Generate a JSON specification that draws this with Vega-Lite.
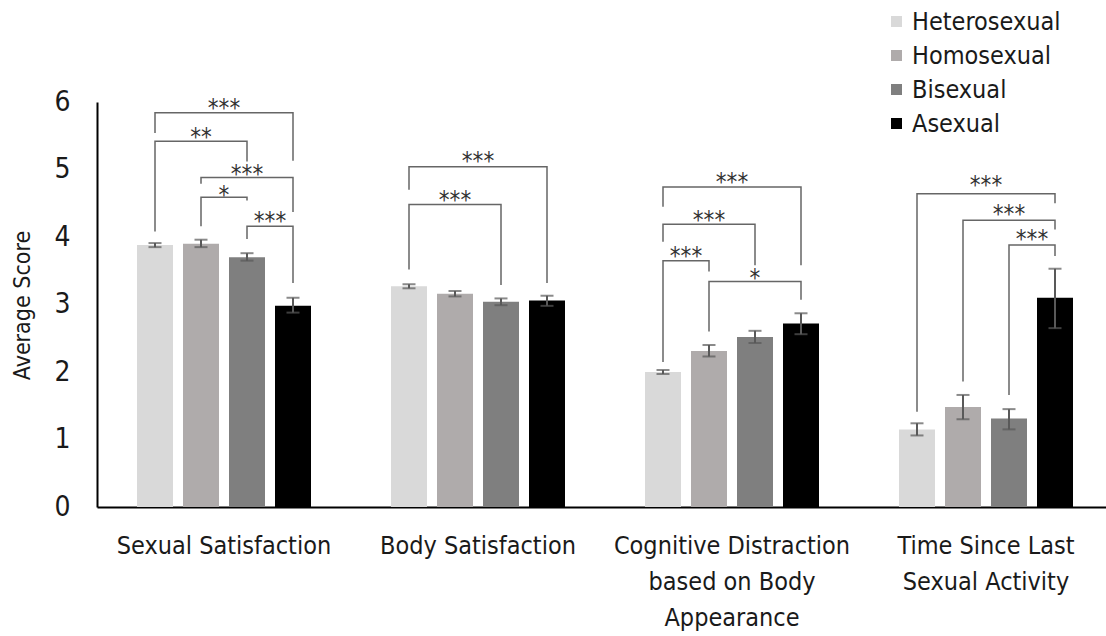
{
  "$schema": "https://vega.github.io/schema/vega-lite/v6.json",
  "width": 1009,
  "height": 405,
  "autosize": {"type": "none"},
  "padding": {"left": 97, "top": 102, "right": 0, "bottom": 129},
  "background": "white",
  "config": {
    "view": {"stroke": null},
    "font": "DejaVu Sans Condensed, DejaVu Sans, sans-serif",
    "axis": {"grid": false}
  },
  "datasets": {
    "bars": [
      {"measure": "Sexual Satisfaction", "group": "Heterosexual", "mean": 3.88, "lo": 3.85, "hi": 3.91},
      {"measure": "Sexual Satisfaction", "group": "Homosexual", "mean": 3.90, "lo": 3.85, "hi": 3.96},
      {"measure": "Sexual Satisfaction", "group": "Bisexual", "mean": 3.70, "lo": 3.65, "hi": 3.76},
      {"measure": "Sexual Satisfaction", "group": "Asexual", "mean": 2.98, "lo": 2.88, "hi": 3.10},
      {"measure": "Body Satisfaction", "group": "Heterosexual", "mean": 3.27, "lo": 3.24, "hi": 3.30},
      {"measure": "Body Satisfaction", "group": "Homosexual", "mean": 3.16, "lo": 3.12, "hi": 3.20},
      {"measure": "Body Satisfaction", "group": "Bisexual", "mean": 3.04, "lo": 2.99, "hi": 3.09},
      {"measure": "Body Satisfaction", "group": "Asexual", "mean": 3.06, "lo": 2.98, "hi": 3.13},
      {"measure": "Cognitive Distraction based on Body Appearance", "group": "Heterosexual", "mean": 2.00, "lo": 1.97, "hi": 2.03},
      {"measure": "Cognitive Distraction based on Body Appearance", "group": "Homosexual", "mean": 2.31, "lo": 2.23, "hi": 2.40},
      {"measure": "Cognitive Distraction based on Body Appearance", "group": "Bisexual", "mean": 2.52, "lo": 2.43, "hi": 2.61},
      {"measure": "Cognitive Distraction based on Body Appearance", "group": "Asexual", "mean": 2.72, "lo": 2.56, "hi": 2.87},
      {"measure": "Time Since Last Sexual Activity", "group": "Heterosexual", "mean": 1.15, "lo": 1.06, "hi": 1.24},
      {"measure": "Time Since Last Sexual Activity", "group": "Homosexual", "mean": 1.48, "lo": 1.30, "hi": 1.66},
      {"measure": "Time Since Last Sexual Activity", "group": "Bisexual", "mean": 1.31, "lo": 1.15, "hi": 1.45},
      {"measure": "Time Since Last Sexual Activity", "group": "Asexual", "mean": 3.10, "lo": 2.65, "hi": 3.53}
    ],
    "brackets": [
      {"measure": "Sexual Satisfaction", "id": "SS1", "s": 1, "slot": "Heterosexual", "v": 5.54},
      {"measure": "Sexual Satisfaction", "id": "SS1", "s": 2, "slot": "Heterosexual", "v": 5.84},
      {"measure": "Sexual Satisfaction", "id": "SS1", "s": 3, "slot": "Asexual", "v": 5.84},
      {"measure": "Sexual Satisfaction", "id": "SS1", "s": 4, "slot": "Asexual", "v": 5.13},
      {"measure": "Sexual Satisfaction", "id": "SS2", "s": 1, "slot": "Heterosexual", "v": 4.08},
      {"measure": "Sexual Satisfaction", "id": "SS2", "s": 2, "slot": "Heterosexual", "v": 5.42},
      {"measure": "Sexual Satisfaction", "id": "SS2", "s": 3, "slot": "Bisexual", "v": 5.42},
      {"measure": "Sexual Satisfaction", "id": "SS2", "s": 4, "slot": "Bisexual", "v": 5.12},
      {"measure": "Sexual Satisfaction", "id": "SS3", "s": 1, "slot": "Homosexual", "v": 4.79},
      {"measure": "Sexual Satisfaction", "id": "SS3", "s": 2, "slot": "Homosexual", "v": 4.88},
      {"measure": "Sexual Satisfaction", "id": "SS3", "s": 3, "slot": "Asexual", "v": 4.88},
      {"measure": "Sexual Satisfaction", "id": "SS3", "s": 4, "slot": "Asexual", "v": 4.37},
      {"measure": "Sexual Satisfaction", "id": "SS4", "s": 1, "slot": "Homosexual", "v": 4.16},
      {"measure": "Sexual Satisfaction", "id": "SS4", "s": 2, "slot": "Homosexual", "v": 4.59},
      {"measure": "Sexual Satisfaction", "id": "SS4", "s": 3, "slot": "Bisexual", "v": 4.59},
      {"measure": "Sexual Satisfaction", "id": "SS4", "s": 4, "slot": "Bisexual", "v": 4.54},
      {"measure": "Sexual Satisfaction", "id": "SS5", "s": 1, "slot": "Bisexual", "v": 3.97},
      {"measure": "Sexual Satisfaction", "id": "SS5", "s": 2, "slot": "Bisexual", "v": 4.16},
      {"measure": "Sexual Satisfaction", "id": "SS5", "s": 3, "slot": "Asexual", "v": 4.16},
      {"measure": "Sexual Satisfaction", "id": "SS5", "s": 4, "slot": "Asexual", "v": 3.32},
      {"measure": "Body Satisfaction", "id": "BS1", "s": 1, "slot": "Heterosexual", "v": 4.70},
      {"measure": "Body Satisfaction", "id": "BS1", "s": 2, "slot": "Heterosexual", "v": 5.04},
      {"measure": "Body Satisfaction", "id": "BS1", "s": 3, "slot": "Asexual", "v": 5.04},
      {"measure": "Body Satisfaction", "id": "BS1", "s": 4, "slot": "Asexual", "v": 3.32},
      {"measure": "Body Satisfaction", "id": "BS2", "s": 1, "slot": "Heterosexual", "v": 3.52},
      {"measure": "Body Satisfaction", "id": "BS2", "s": 2, "slot": "Heterosexual", "v": 4.48},
      {"measure": "Body Satisfaction", "id": "BS2", "s": 3, "slot": "Bisexual", "v": 4.48},
      {"measure": "Body Satisfaction", "id": "BS2", "s": 4, "slot": "Bisexual", "v": 3.29},
      {"measure": "Cognitive Distraction based on Body Appearance", "id": "CD1", "s": 1, "slot": "Heterosexual", "v": 4.45},
      {"measure": "Cognitive Distraction based on Body Appearance", "id": "CD1", "s": 2, "slot": "Heterosexual", "v": 4.74},
      {"measure": "Cognitive Distraction based on Body Appearance", "id": "CD1", "s": 3, "slot": "Asexual", "v": 4.74},
      {"measure": "Cognitive Distraction based on Body Appearance", "id": "CD1", "s": 4, "slot": "Asexual", "v": 3.58},
      {"measure": "Cognitive Distraction based on Body Appearance", "id": "CD2", "s": 1, "slot": "Heterosexual", "v": 3.93},
      {"measure": "Cognitive Distraction based on Body Appearance", "id": "CD2", "s": 2, "slot": "Heterosexual", "v": 4.19},
      {"measure": "Cognitive Distraction based on Body Appearance", "id": "CD2", "s": 3, "slot": "Bisexual", "v": 4.19},
      {"measure": "Cognitive Distraction based on Body Appearance", "id": "CD2", "s": 4, "slot": "Bisexual", "v": 3.58},
      {"measure": "Cognitive Distraction based on Body Appearance", "id": "CD3", "s": 1, "slot": "Heterosexual", "v": 2.15},
      {"measure": "Cognitive Distraction based on Body Appearance", "id": "CD3", "s": 2, "slot": "Heterosexual", "v": 3.65},
      {"measure": "Cognitive Distraction based on Body Appearance", "id": "CD3", "s": 3, "slot": "Homosexual", "v": 3.65},
      {"measure": "Cognitive Distraction based on Body Appearance", "id": "CD3", "s": 4, "slot": "Homosexual", "v": 3.49},
      {"measure": "Cognitive Distraction based on Body Appearance", "id": "CD4", "s": 1, "slot": "Homosexual", "v": 2.60},
      {"measure": "Cognitive Distraction based on Body Appearance", "id": "CD4", "s": 2, "slot": "Homosexual", "v": 3.34},
      {"measure": "Cognitive Distraction based on Body Appearance", "id": "CD4", "s": 3, "slot": "Asexual", "v": 3.34},
      {"measure": "Cognitive Distraction based on Body Appearance", "id": "CD4", "s": 4, "slot": "Asexual", "v": 3.07},
      {"measure": "Time Since Last Sexual Activity", "id": "TS1", "s": 1, "slot": "Heterosexual", "v": 1.41},
      {"measure": "Time Since Last Sexual Activity", "id": "TS1", "s": 2, "slot": "Heterosexual", "v": 4.64},
      {"measure": "Time Since Last Sexual Activity", "id": "TS1", "s": 3, "slot": "Asexual", "v": 4.64},
      {"measure": "Time Since Last Sexual Activity", "id": "TS1", "s": 4, "slot": "Asexual", "v": 4.50},
      {"measure": "Time Since Last Sexual Activity", "id": "TS2", "s": 1, "slot": "Homosexual", "v": 1.86},
      {"measure": "Time Since Last Sexual Activity", "id": "TS2", "s": 2, "slot": "Homosexual", "v": 4.25},
      {"measure": "Time Since Last Sexual Activity", "id": "TS2", "s": 3, "slot": "Asexual", "v": 4.25},
      {"measure": "Time Since Last Sexual Activity", "id": "TS2", "s": 4, "slot": "Asexual", "v": 4.11},
      {"measure": "Time Since Last Sexual Activity", "id": "TS3", "s": 1, "slot": "Bisexual", "v": 1.66},
      {"measure": "Time Since Last Sexual Activity", "id": "TS3", "s": 2, "slot": "Bisexual", "v": 3.88},
      {"measure": "Time Since Last Sexual Activity", "id": "TS3", "s": 3, "slot": "Asexual", "v": 3.88},
      {"measure": "Time Since Last Sexual Activity", "id": "TS3", "s": 4, "slot": "Asexual", "v": 3.72}
    ],
    "stars": [
      {"measure": "Sexual Satisfaction", "slot": "Ho|Bi", "v": 5.98, "label": "***"},
      {"measure": "Sexual Satisfaction", "slot": "Homosexual", "v": 5.55, "label": "**"},
      {"measure": "Sexual Satisfaction", "slot": "Bisexual", "v": 5.01, "label": "***"},
      {"measure": "Sexual Satisfaction", "slot": "Ho|Bi", "v": 4.69, "label": "*"},
      {"measure": "Sexual Satisfaction", "slot": "Bi|As", "v": 4.31, "label": "***"},
      {"measure": "Body Satisfaction", "slot": "Ho|Bi", "v": 5.20, "label": "***"},
      {"measure": "Body Satisfaction", "slot": "Homosexual", "v": 4.62, "label": "***"},
      {"measure": "Cognitive Distraction based on Body Appearance", "slot": "Ho|Bi", "v": 4.89, "label": "***"},
      {"measure": "Cognitive Distraction based on Body Appearance", "slot": "Homosexual", "v": 4.32, "label": "***"},
      {"measure": "Cognitive Distraction based on Body Appearance", "slot": "He|Ho", "v": 3.80, "label": "***"},
      {"measure": "Cognitive Distraction based on Body Appearance", "slot": "Bisexual", "v": 3.46, "label": "*"},
      {"measure": "Time Since Last Sexual Activity", "slot": "Ho|Bi", "v": 4.85, "label": "***"},
      {"measure": "Time Since Last Sexual Activity", "slot": "Bisexual", "v": 4.41, "label": "***"},
      {"measure": "Time Since Last Sexual Activity", "slot": "Bi|As", "v": 4.04, "label": "***"}
    ]
  },
  "layer": [
    {
      "data": {"name": "bars"},
      "mark": {"type": "bar", "width": 36},
      "encoding": {
        "x": {
          "field": "measure", "type": "nominal",
          "scale": {"domain": ["Sexual Satisfaction", "Body Satisfaction", "Cognitive Distraction based on Body Appearance", "Time Since Last Sexual Activity"], "range": [0, 1016], "paddingInner": 0, "paddingOuter": 0},
          "axis": {
            "title": null, "labelAngle": 0, "ticks": false, "domainColor": "#000000", "domainWidth": 2,
            "labelFontSize": 25, "labelColor": "#1a1a1a", "labelPadding": 26, "labelLineHeight": 36, "labelLimit": 0,
            "labelExpr": "datum.value == 'Cognitive Distraction based on Body Appearance' ? ['Cognitive Distraction', 'based on Body', 'Appearance'] : datum.value == 'Time Since Last Sexual Activity' ? ['Time Since Last', 'Sexual Activity'] : datum.label"
          }
        },
        "xOffset": {"field": "group", "type": "nominal", "scale": {"domain": ["Heterosexual", "He|Ho", "Homosexual", "Ho|Bi", "Bisexual", "Bi|As", "Asexual"], "range": [46.5, 207.5], "paddingInner": 0, "paddingOuter": 0}},
        "y": {
          "field": "mean", "type": "quantitative", "scale": {"domain": [0, 6]},
          "axis": {"title": "Average Score", "titleFontSize": 23, "titleFontWeight": "normal", "titleColor": "#1a1a1a", "titleX": -75, "titleY": 203, "titleAlign": "center", "titleBaseline": "middle", "titleAngle": -90, "values": [0, 1, 2, 3, 4, 5, 6], "format": "d", "ticks": false, "labelFontSize": 28, "labelColor": "#1a1a1a", "labelPadding": 27, "domainColor": "#000000", "domainWidth": 2}
        },
        "color": {
          "field": "group", "type": "nominal",
          "scale": {"domain": ["Heterosexual", "Homosexual", "Bisexual", "Asexual"], "range": ["#d9d9d9", "#afabab", "#7f7f7f", "#000000"]},
          "legend": {"title": null, "orient": "none", "legendX": 787, "legendY": -93, "symbolType": "square", "symbolSize": 121, "symbolStrokeWidth": 0, "labelFontSize": 25, "labelColor": "#1a1a1a", "labelOffset": 3, "labelLimit": 0, "rowPadding": 8}
        }
      }
    },
    {
      "data": {"name": "bars"},
      "mark": {"type": "rule", "color": "#595959", "strokeWidth": 2},
      "encoding": {
        "x": {"field": "measure", "type": "nominal"},
        "xOffset": {"field": "group", "type": "nominal", "scale": {"domain": ["Heterosexual", "He|Ho", "Homosexual", "Ho|Bi", "Bisexual", "Bi|As", "Asexual"], "range": [46.5, 207.5], "paddingInner": 0, "paddingOuter": 0}},
        "y": {"field": "lo", "type": "quantitative"},
        "y2": {"field": "hi"}
      }
    },
    {
      "data": {"name": "bars"},
      "mark": {"type": "tick", "orient": "horizontal", "size": 13, "thickness": 2, "color": "#595959"},
      "encoding": {
        "x": {"field": "measure", "type": "nominal"},
        "xOffset": {"field": "group", "type": "nominal", "scale": {"domain": ["Heterosexual", "He|Ho", "Homosexual", "Ho|Bi", "Bisexual", "Bi|As", "Asexual"], "range": [46.5, 207.5], "paddingInner": 0, "paddingOuter": 0}},
        "y": {"field": "lo", "type": "quantitative"}
      }
    },
    {
      "data": {"name": "bars"},
      "mark": {"type": "tick", "orient": "horizontal", "size": 13, "thickness": 2, "color": "#595959"},
      "encoding": {
        "x": {"field": "measure", "type": "nominal"},
        "xOffset": {"field": "group", "type": "nominal", "scale": {"domain": ["Heterosexual", "He|Ho", "Homosexual", "Ho|Bi", "Bisexual", "Bi|As", "Asexual"], "range": [46.5, 207.5], "paddingInner": 0, "paddingOuter": 0}},
        "y": {"field": "hi", "type": "quantitative"}
      }
    },
    {
      "data": {"name": "brackets"},
      "mark": {"type": "line", "color": "#666666", "strokeWidth": 1.5},
      "encoding": {
        "x": {"field": "measure", "type": "nominal"},
        "xOffset": {"field": "slot", "type": "nominal", "scale": {"domain": ["Heterosexual", "He|Ho", "Homosexual", "Ho|Bi", "Bisexual", "Bi|As", "Asexual"], "range": [46.5, 207.5], "paddingInner": 0, "paddingOuter": 0}},
        "y": {"field": "v", "type": "quantitative"},
        "detail": {"field": "id"},
        "order": {"field": "s", "type": "quantitative"}
      }
    },
    {
      "data": {"name": "stars"},
      "mark": {"type": "text", "fontSize": 24, "color": "#333333", "baseline": "middle", "dy": 6},
      "encoding": {
        "x": {"field": "measure", "type": "nominal"},
        "xOffset": {"field": "slot", "type": "nominal", "scale": {"domain": ["Heterosexual", "He|Ho", "Homosexual", "Ho|Bi", "Bisexual", "Bi|As", "Asexual"], "range": [46.5, 207.5], "paddingInner": 0, "paddingOuter": 0}},
        "y": {"field": "v", "type": "quantitative"},
        "text": {"field": "label"}
      }
    }
  ]
}
